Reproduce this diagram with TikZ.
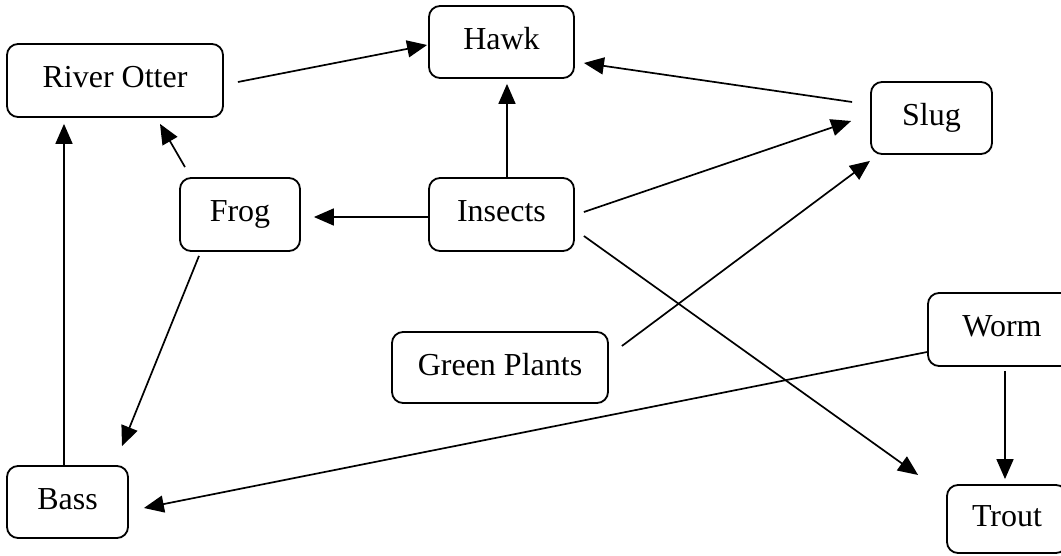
\documentclass[tikz,border=0pt]{standalone}
\usepackage{fontspec}
\setmainfont{Liberation Serif}
\usetikzlibrary{arrows.meta,calc}
\tikzset{
  box/.style={draw=black,line width=1.8pt,rounded corners=11pt,inner sep=0pt,
    font=\fontsize{32}{38}\selectfont,text height=22pt,text depth=7pt},
  arr/.style={line width=1.7pt,-{Triangle[length=20pt,width=17pt]}}
}
\begin{document}
\begin{tikzpicture}[x=1pt,y=-1pt]
\useasboundingbox (0,0) rectangle (1061,556);
\clip (0,0) rectangle (1061,556);
\fill[white] (0,0) rectangle (1061,556);
\node[box,minimum width=216pt,minimum height=73pt] (otter) at (115,80.5) {River Otter};
\node[box,minimum width=145pt,minimum height=72pt] (hawk) at (501.5,42) {Hawk};
\node[box,minimum width=121pt,minimum height=72pt] (slug) at (931.5,118) {Slug};
\node[box,minimum width=145pt,minimum height=73pt] (insects) at (501.5,214.5) {Insects};
\node[box,minimum width=120pt,minimum height=73pt] (frog) at (240,214.5) {Frog};
\node[box,minimum width=216pt,minimum height=71pt] (plants) at (500,367.5) {Green Plants};
\node[box,minimum width=148pt,minimum height=73pt] (worm) at (1002,329.5) {Worm};
\node[box,minimum width=120pt,minimum height=68pt] (trout) at (1007,519) {Trout};
\node[box,minimum width=121pt,minimum height=72pt] (bass) at (67.5,502) {Bass};

\draw[arr] ($(otter.east)+(14,1.5)$) -- ($(hawk.west)+(-1,3)$);
\draw[arr] ($(slug.west)+(-18,-16)$) -- ($(hawk.east)+(9,21)$);
\draw[arr] ($(insects.north)+(5.5,0)$) -- ($(hawk.south)+(5.5,5)$);
\draw[arr] ($(insects.east)+(9,-2.5)$) -- ($(slug.west)+(-19,3)$);
\draw[arr] ($(plants.east)+(13,-21.5)$) -- ($(slug.south)+(-61.5,6)$);
\draw[arr] ($(insects.east)+(9,21.5)$) -- ($(trout.west)+(-28,-44)$);
\draw[arr] ($(insects.west)+(0,2.5)$) -- ($(frog.east)+(13,2.5)$);
\draw[arr] ($(frog.north)+(-55,-10)$) -- ($(otter.south)+(45,6)$);
\draw[arr] ($(frog.south)+(-41,4)$) -- ($(bass.north)+(54.5,-19)$);
\draw[arr] ($(bass.north)+(-3.5,0)$) -- ($(otter.south)+(-51,6)$);
\draw[arr] ($(worm.west)+(0,22.5)$) -- ($(bass.east)+(15,6)$);
\draw[arr] ($(worm.south)+(3,4)$) -- ($(trout.north)+(-2,-5)$);
\end{tikzpicture}
\end{document}
